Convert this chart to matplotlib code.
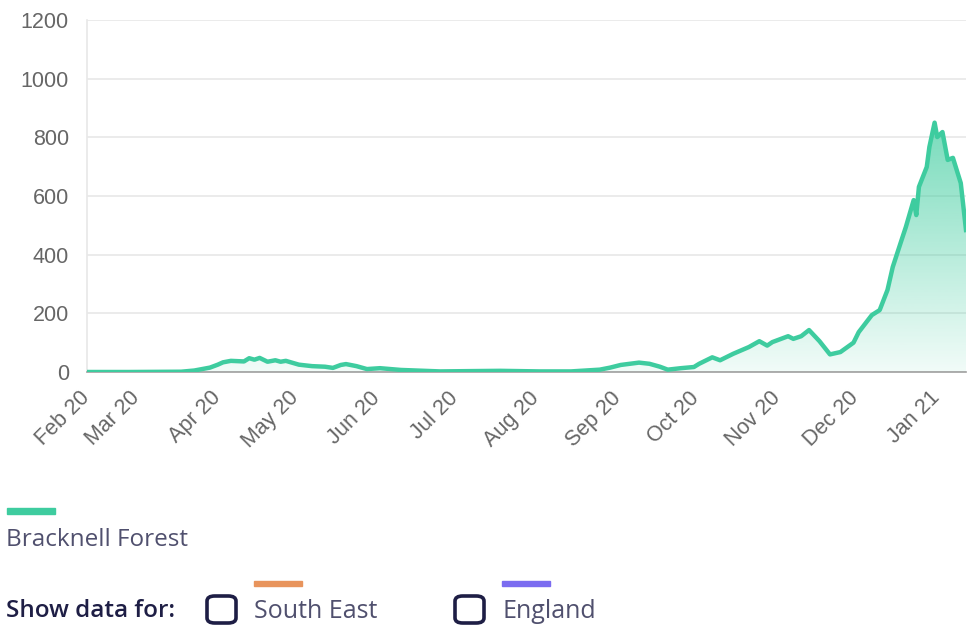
import numpy as np
import matplotlib
matplotlib.use('Agg')
import matplotlib.pyplot as plt
import matplotlib.dates as mdates
import matplotlib.transforms as mtransforms
from matplotlib.patches import FancyBboxPatch, Rectangle
from datetime import datetime, timedelta

# daily cases, Bracknell Forest
start = datetime(2020, 2, 11)
day_offsets = [0, 16, 36, 41, 47, 50, 52, 55, 60, 62, 64, 66, 69, 72, 74, 76,
               81, 86, 91, 94, 97, 99, 103, 107, 112, 120, 135, 146, 158, 173,
               185, 196, 200, 204, 211, 215, 219, 222, 227, 232, 234, 239, 242,
               247, 253, 257, 260, 262, 268, 270, 273, 276, 280, 284, 288, 293,
               295, 300, 303, 306, 308, 311, 313, 316, 317, 318, 321, 322, 324,
               325, 327, 329, 331, 334, 336]
cases = [0, 0, 1, 5, 15, 25, 33, 38, 36, 47, 42, 48, 35, 40, 35, 38,
         25, 20, 18, 14, 24, 27, 20, 10, 13, 7, 2, 3, 4, 2,
         2, 8, 15, 24, 32, 28, 18, 8, 13, 17, 28, 50, 40,
         62, 85, 105, 90, 102, 122, 113, 122, 143, 105, 60, 68, 100,
         136, 194, 211, 280, 358, 440, 494, 586, 535, 631, 699, 767, 850,
         801, 818, 723, 730, 644, 484]

tick_dates = [datetime(2020, 2, 11)] + [datetime(2020, m, 1) for m in range(3, 13)] + [datetime(2021, 1, 1)]
tick_labels = ['Feb 20', 'Mar 20', 'Apr 20', 'May 20', 'Jun 20', 'Jul 20', 'Aug 20',
               'Sep 20', 'Oct 20', 'Nov 20', 'Dec 20', 'Jan 21']

dates = [start + timedelta(days=d) for d in day_offsets]
x = mdates.date2num(dates)
y = np.array(cases, dtype=float)

green = '#3ecc9f'
W, H = 972, 637
fig = plt.figure(figsize=(W / 100, H / 100), dpi=100)
ax = fig.add_axes([87 / W, 1 - 372 / H, (966 - 87) / W, (372 - 20) / H])

# gradient fill under the line
poly = ax.fill_between(x, y, 0, color='none', lw=0)
grad = np.linspace(0, 1, 256).reshape(-1, 1)
cmap = matplotlib.colors.LinearSegmentedColormap.from_list(
    'g', [(0.24, 0.80, 0.62, 0.07), (0.24, 0.80, 0.62, 0.72)])
img = ax.imshow(grad, cmap=cmap, aspect='auto', origin='lower',
                extent=[x[0], x[-1], 0, 880], zorder=1)
img.set_clip_path(poly.get_paths()[0], transform=ax.transData)

ax.plot(x, y, color=green, lw=3.2, solid_joinstyle='round', zorder=3)

ax.set_xlim(x[0], x[-1])
ax.set_ylim(0, 1200)
ax.set_yticks(np.arange(0, 1201, 200))
ax.set_xticks(mdates.date2num(tick_dates))
ax.set_xticklabels(tick_labels, rotation=45, ha='right', rotation_mode='anchor')
ax.tick_params(axis='both', length=0, labelsize=15.5, labelcolor='#666666')
ax.tick_params(axis='y', pad=13)
ax.tick_params(axis='x', pad=9)
shift = mtransforms.ScaledTranslation(-8 / 100, -3 / 100, fig.dpi_scale_trans)
for lab in ax.get_xticklabels():
    lab.set_transform(lab.get_transform() + shift)
for lab in ax.get_xticklabels() + ax.get_yticklabels():
    lab.set_family('Liberation Sans')

ax.grid(True, axis='y', color='#e8e8e8', lw=1.2)
ax.set_axisbelow(True)
for s in ['top', 'right']:
    ax.spines[s].set_visible(False)
ax.spines['left'].set_color('#e8e8e8')
ax.spines['left'].set_linewidth(1.2)
ax.spines['bottom'].set_color('#a0a0a0')
ax.spines['bottom'].set_linewidth(1.2)

# legend / controls below the chart
def fx(px):
    return px / W

def fy(py):
    return 1 - py / H

navy = '#1e1e45'
grey_navy = '#50506e'
fig.patches.append(Rectangle((fx(7), fy(514)), 48 / W, 6 / H, color=green,
                             transform=fig.transFigure, figure=fig))
fig.text(fx(6), fy(540), 'Bracknell Forest', fontsize=17.5, color=grey_navy,
         family='Open Sans', va='center')

fig.text(fx(6), fy(611), 'Show data for:', fontsize=17.5, color=navy,
         family='Open Sans', fontweight='semibold', va='center')

for bx, label, col in [(207, 'South East', '#e8945c'), (455, 'England', '#7b6cf0')]:
    fig.patches.append(FancyBboxPatch((fx(bx), fy(623)), 29 / W, 27 / H,
                                      boxstyle='round,pad=0,rounding_size=0.008',
                                      fc='white', ec=navy, lw=2.6,
                                      transform=fig.transFigure, figure=fig))
    fig.patches.append(Rectangle((fx(bx + 47), fy(586)), 48 / W, 5 / H, color=col,
                                 transform=fig.transFigure, figure=fig))
    fig.text(fx(bx + 47), fy(611), label, fontsize=18, color=grey_navy,
             family='Open Sans', va='center')

fig.savefig('out.png', dpi=100)
